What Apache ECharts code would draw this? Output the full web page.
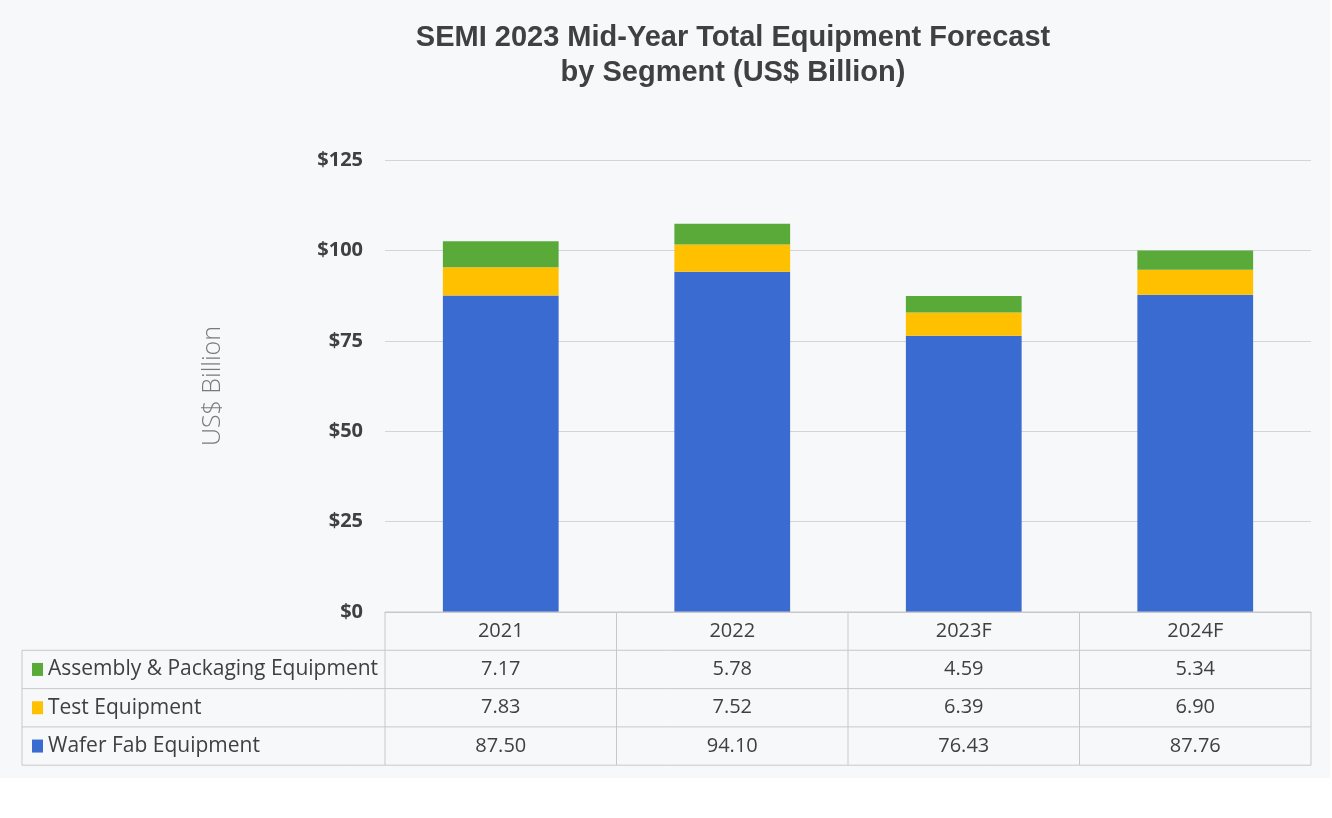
<!DOCTYPE html>
<html>
<head>
<meta charset="utf-8">
<script src="https://cdn.jsdelivr.net/npm/echarts@6/dist/echarts.min.js"></script>
<style>
html,body{margin:0;padding:0;background:#ffffff;}
#main{width:1332px;height:818px;}
</style>
</head>
<body>
<div id="main"></div>
<script>
const categories = ['2021', '2022', '2023F', '2024F'];
const waferFab = [87.50, 94.10, 76.43, 87.76];
const testEquip = [7.83, 7.52, 6.39, 6.90];
const assembly = [7.17, 5.78, 4.59, 5.34];
const yTicks = [0, 25, 50, 75, 100, 125];

const seriesNames = ['Wafer Fab Equipment', 'Test Equipment', 'Assembly & Packaging Equipment'];
const seriesData = [waferFab, testEquip, assembly];
const colors = ['#3a6bd0', '#ffc000', '#5aaa3a'];

const chart = echarts.init(document.getElementById('main'));
const textColor = '#404040';
const tableFont = '"Open Sans", sans-serif';

chart.setOption({
  backgroundColor: '#ffffff',
  animation: false,
  grid: { left: 385, right: 21, top: 160, bottom: 206 },
  xAxis: {
    type: 'category',
    data: categories,
    axisLine: { show: true, lineStyle: { color: '#c9c9c9' } },
    axisTick: { show: false },
    axisLabel: { show: false }
  },
  yAxis: {
    type: 'value',
    min: yTicks[0],
    max: yTicks[yTicks.length - 1],
    interval: yTicks[1] - yTicks[0],
    name: 'US$ Billion',
    nameLocation: 'middle',
    nameRotate: 90,
    nameGap: 160,
    nameTextStyle: { color: '#7a7a7a', fontSize: 25, fontFamily: tableFont, fontWeight: 300 },
    axisLine: { show: false },
    axisTick: { show: false },
    axisLabel: {
      margin: 22,
      color: textColor,
      fontSize: 20,
      fontWeight: 'bold',
      fontFamily: tableFont,
      formatter: v => '$' + v
    },
    splitLine: { lineStyle: { color: '#d4d4d4', width: 1 } }
  },
  series: seriesNames.map((n, i) => ({
    name: n,
    type: 'bar',
    stack: 'total',
    barWidth: '50%',
    data: seriesData[i],
    itemStyle: { color: colors[i] }
  }))
});

// Build title, background and data table through the chart's own scales
const x0 = chart.convertToPixel({ xAxisIndex: 0 }, categories[0]);
const x1 = chart.convertToPixel({ xAxisIndex: 0 }, categories[1]);
const colW = x1 - x0;
const tableTop = chart.convertToPixel({ yAxisIndex: 0 }, 0);
const gridLeft = x0 - colW / 2;
const gridRight = gridLeft + colW * categories.length;
const rowH = 38.3;
const tableLeft = 22;
const lineColor = '#c8c8c8';

const g = [];
g.push({ type: 'rect', z: -10, shape: { x: 0, y: 0, width: 1330, height: 778 }, style: { fill: '#f7f8fa' } });
g.push({
  type: 'text', x: 733, y: 38, z: 10,
  style: { text: 'SEMI 2023 Mid-Year Total Equipment Forecast', font: 'bold 29px "Liberation Sans", Arial, sans-serif', fill: textColor, textAlign: 'center', textVerticalAlign: 'middle' }
});
g.push({
  type: 'text', x: 733, y: 73, z: 10,
  style: { text: 'by Segment (US$ Billion)', font: 'bold 29px "Liberation Sans", Arial, sans-serif', fill: textColor, textAlign: 'center', textVerticalAlign: 'middle' }
});

function line(xa, ya, xb, yb) {
  g.push({ type: 'line', z: 5, shape: { x1: xa, y1: ya, x2: xb, y2: yb }, style: { stroke: lineColor, lineWidth: 1 } });
}
// horizontal lines
line(gridLeft, tableTop, gridRight, tableTop);
for (let r = 1; r <= 4; r++) {
  const y = tableTop + rowH * r;
  line(tableLeft, y, gridRight, y);
}
// vertical lines
line(tableLeft, tableTop + rowH, tableLeft, tableTop + rowH * 4);
for (let c = 0; c <= categories.length; c++) {
  const x = gridLeft + colW * c;
  line(x, tableTop, x, tableTop + rowH * 4);
}
// header labels
categories.forEach((cat, c) => {
  g.push({
    type: 'text', z: 6, x: chart.convertToPixel({ xAxisIndex: 0 }, cat), y: tableTop + rowH / 2,
    style: { text: cat, font: '20px ' + tableFont, fill: textColor, textAlign: 'center', textVerticalAlign: 'middle' }
  });
});
// rows: top row is last series
const rowOrder = [2, 1, 0];
rowOrder.forEach((si, r) => {
  const yc = tableTop + rowH * (r + 1) + rowH / 2;
  g.push({ type: 'rect', z: 6, shape: { x: 32, y: yc - 6.5, width: 11, height: 13 }, style: { fill: colors[si] } });
  g.push({
    type: 'text', z: 6, x: 48, y: yc,
    style: { text: seriesNames[si], font: '21px ' + tableFont, fill: textColor, textAlign: 'left', textVerticalAlign: 'middle' }
  });
  categories.forEach((cat, c) => {
    g.push({
      type: 'text', z: 6, x: chart.convertToPixel({ xAxisIndex: 0 }, cat), y: yc,
      style: { text: seriesData[si][c].toFixed(2), font: '20px ' + tableFont, fill: textColor, textAlign: 'center', textVerticalAlign: 'middle' }
    });
  });
});

chart.setOption({ graphic: g });
</script>
</body>
</html>
